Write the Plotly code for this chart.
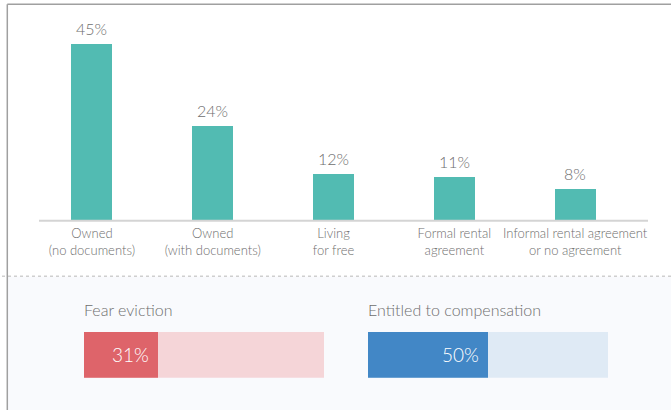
import plotly.graph_objects as go

# Tenure status shares
categories = [
    "Owned<br>(no documents)",
    "Owned<br>(with documents)",
    "Living<br>for free",
    "Formal rental<br>agreement",
    "Informal rental agreement<br>or no agreement",
]
shares = [45, 24, 12, 11, 8]

# Indicators shown as progress bars
indicator_names = ["Fear eviction", "Entitled to compensation"]
indicator_values = [31, 50]
indicator_colors = ["#de646a", "#4287c6"]
indicator_tracks = ["#f5d5d8", "#dfeaf5"]

W, H = 671, 410
FONT = "Lato"
WEIGHT = 300
TEXT_GREY = "#6e6e6e"
TEAL = "#52bbb2"


def px_x(x):
    return x / W


def px_y(y):
    return 1 - y / H


fig = go.Figure()

# Main bar chart
fig.add_trace(go.Bar(
    x=list(range(len(categories))),
    y=shares,
    width=0.34,
    marker=dict(color=TEAL, line=dict(width=0)),
    hoverinfo="skip",
    xaxis="x", yaxis="y",
))

annotations = []
for i, v in enumerate(shares):
    annotations.append(dict(
        x=i, y=v, xref="x", yref="y", text=f"{v}%",
        showarrow=False, yanchor="bottom", yshift=4,
        font=dict(family=FONT, size=16, color=TEXT_GREY, weight=WEIGHT),
    ))

# Progress bars (one axis pair each)
axis_layout = {}
bar_left = [84, 368]
bar_w = 240
bar_top, bar_bot = 331.7, 377.7
for k, (name, val, col, track) in enumerate(zip(indicator_names, indicator_values,
                                               indicator_colors, indicator_tracks)):
    xa = f"x{k + 2}"
    ya = f"y{k + 2}"
    fig.add_trace(go.Bar(
        x=[100], y=[0], orientation="h", width=1,
        marker=dict(color=track, line=dict(width=0)),
        hoverinfo="skip", xaxis=xa, yaxis=ya,
    ))
    fig.add_trace(go.Bar(
        x=[val], y=[0], orientation="h", width=1,
        marker=dict(color=col, line=dict(width=0)),
        hoverinfo="skip", xaxis=xa, yaxis=ya,
    ))
    axis_layout[f"xaxis{k + 2}"] = dict(
        domain=[px_x(bar_left[k]), px_x(bar_left[k] + bar_w)],
        range=[0, 100], visible=False, fixedrange=True, anchor=ya,
        automargin=False,
    )
    axis_layout[f"yaxis{k + 2}"] = dict(
        domain=[px_y(bar_bot), px_y(bar_top)],
        range=[-0.5, 0.5], visible=False, fixedrange=True, anchor=xa,
        automargin=False,
    )
    annotations.append(dict(
        x=val, y=0, xref=xa, yref=ya, text=f"{val}%",
        showarrow=False, xanchor="right", xshift=-7,
        font=dict(family=FONT, size=19, color="white", weight=WEIGHT),
    ))
    annotations.append(dict(
        x=px_x(bar_left[k] - 2), y=px_y(309), xref="paper", yref="paper",
        text=name, showarrow=False, xanchor="left", yanchor="middle",
        font=dict(family=FONT, size=16, color=TEXT_GREY, weight=WEIGHT),
    ))

shapes = [
    # lower panel background
    dict(type="rect", xref="paper", yref="paper", layer="below",
         x0=px_x(8), x1=1, y0=0, y1=px_y(276.5),
         fillcolor="#f9fafd", line=dict(width=0)),
    # dotted divider
    dict(type="line", xref="paper", yref="paper", layer="above",
         x0=px_x(2), x1=1, y0=px_y(276.3), y1=px_y(276.3),
         line=dict(color="#cfcfcf", width=1.5, dash="dot")),
    # frame: top and left
    dict(type="line", xref="paper", yref="paper",
         x0=px_x(7.3), x1=1, y0=px_y(4.3), y1=px_y(4.3),
         line=dict(color="#a0a0a0", width=1.5)),
    dict(type="line", xref="paper", yref="paper",
         x0=px_x(7.3), x1=px_x(7.3), y0=0, y1=px_y(4.3),
         line=dict(color="#a0a0a0", width=1.5)),
    # baseline under the bars
    dict(type="line", xref="paper", yref="paper",
         x0=px_x(39), x1=px_x(648), y0=px_y(220.7), y1=px_y(220.7),
         line=dict(color="#d4d4d4", width=2)),
]

base_y = 220.7
top_y = 20
px_per_pct = 3.93

fig.update_layout(
    width=W, height=H,
    margin=dict(l=0, r=0, t=0, b=0, autoexpand=False),
    paper_bgcolor="white", plot_bgcolor="rgba(0,0,0,0)",
    showlegend=False, barmode="overlay", bargap=0,
    font=dict(family=FONT, color=TEXT_GREY, weight=WEIGHT),
    xaxis=dict(
        domain=[px_x(39), px_x(648)],
        range=[-0.438, 4.603],
        tickmode="array", tickvals=list(range(len(categories))), ticktext=categories,
        tickfont=dict(family=FONT, size=13, color=TEXT_GREY, weight=WEIGHT),
        showgrid=False, zeroline=False, showline=False, ticks="",
        ticklabelstandoff=3, fixedrange=True, anchor="y", automargin=False,
    ),
    yaxis=dict(
        domain=[px_y(base_y), px_y(top_y)],
        range=[0, (base_y - top_y) / px_per_pct],
        visible=False, fixedrange=True, anchor="x", automargin=False,
    ),
    annotations=annotations,
    shapes=shapes,
    **axis_layout,
)

fig.write_html("out.html", config={"displayModeBar": False})
